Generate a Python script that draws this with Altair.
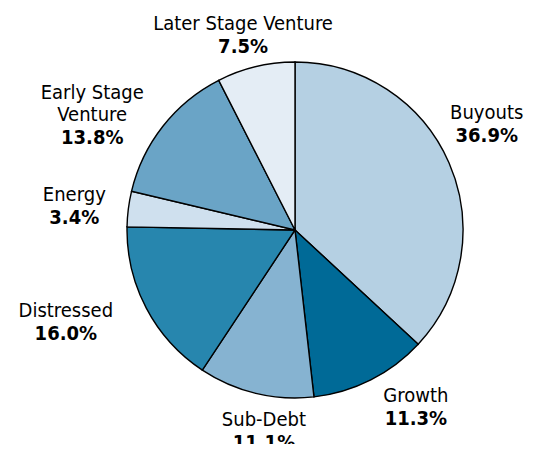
import altair as alt
import pandas as pd

categories = ["Buyouts", "Growth", "Sub-Debt", "Distressed", "Energy",
              "Early Stage Venture", "Later Stage Venture"]
name_lines = [["Buyouts"], ["Growth"], ["Sub-Debt"], ["Distressed"], ["Energy"],
              ["Early Stage", "Venture"], ["Later Stage Venture"]]
shares = [36.9, 11.3, 11.1, 16.0, 3.4, 13.8, 7.5]
pct_labels = ["36.9%", "11.3%", "11.1%", "16.0%", "3.4%", "13.8%", "7.5%"]
colors = ["#b5d0e3", "#006a97", "#86b3d1", "#2786ae", "#cfe0ee", "#6aa4c6", "#e4edf5"]

# label placement (angle clockwise from top in degrees, distance from pie centre in px)
label_angle = [61.1, 145.6, 188.8, 248.1, 276.2, 297.2, 345.1]
label_dist = [219, 214, 203, 247, 222, 228, 202]

CX, CY = 200, 200   # pie centre inside the view
LINE_H = 22

df = pd.DataFrame({
    "cat": categories,
    "share": shares,
    "pct": pct_labels,
    "idx": list(range(len(categories))),
    "ang": label_angle,
    "dist": label_dist,
})

rows = []
for i, lines in enumerate(name_lines):
    n = len(lines)
    for j, t in enumerate(lines):
        rows.append({"txt": t, "k": n - 1 - j, "ang": label_angle[i], "dist": label_dist[i]})
names_df = pd.DataFrame(rows)

FONT = "DejaVu Sans Condensed, Liberation Sans Narrow, sans-serif"

pie = alt.Chart(df).mark_arc(radius=168, stroke="black", strokeWidth=1.4).encode(
    theta=alt.Theta("share:Q", stack=True),
    order=alt.Order("idx:Q"),
    color=alt.Color("cat:N", scale=alt.Scale(domain=categories, range=colors), legend=None),
)

xexpr = f"{CX} + datum.dist * sin(datum.ang * PI / 180)"
yexpr = f"{CY} - datum.dist * cos(datum.ang * PI / 180)"

names = alt.Chart(names_df).transform_calculate(
    px=xexpr, py=yexpr + f" - datum.k * {LINE_H}"
).mark_text(font=FONT, fontSize=20, baseline="bottom", align="center", dy=-1,
            color="black").encode(
    x=alt.X("px:Q", scale=None, axis=None),
    y=alt.Y("py:Q", scale=None, axis=None),
    text="txt:N",
)

pcts = alt.Chart(df).transform_calculate(
    px=xexpr, py=yexpr
).mark_text(font=FONT, fontSize=20, fontWeight="bold", baseline="top",
            align="center", dy=2, color="black").encode(
    x=alt.X("px:Q", scale=None, axis=None),
    y=alt.Y("py:Q", scale=None, axis=None),
    text="pct:N",
)

chart = alt.layer(pie, names, pcts).properties(
    width=400, height=400,
    padding={"left": 87, "top": 22, "right": 31, "bottom": 14},
    autosize=alt.AutoSizeParams(type="none"),
).configure_view(stroke=None)

chart.save("out.html", embed_options={"renderer": "svg", "actions": False})
